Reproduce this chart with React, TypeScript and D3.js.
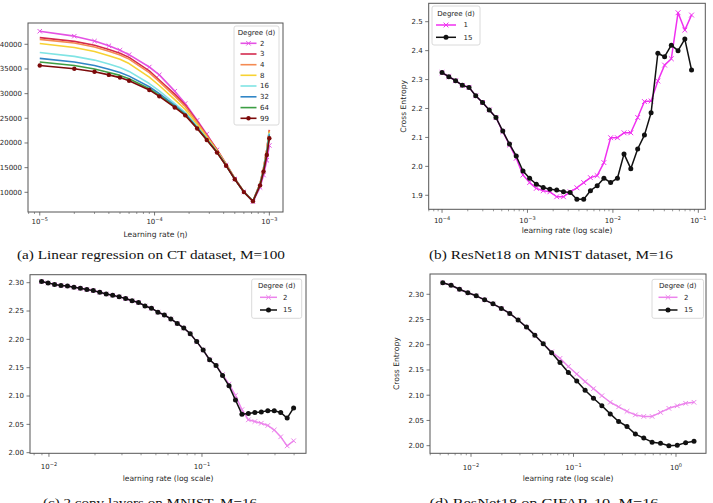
import * as d3 from "d3";

// ---- (a) linear regression on CT, M=100
const lrA = [1e-5, 2e-5, 3e-5, 4e-5, 5e-5, 6e-5, 9e-5, 1.1e-4, 1.5e-4, 1.85e-4, 2.35e-4, 2.85e-4, 3.5e-4, 4.2e-4, 5e-4, 6e-4, 7.2e-4, 8.3e-4, 8.9e-4, 9.5e-4, 1e-3];
const ctD2 = [42650, 41650, 40650, 39700, 38800, 37900, 35400, 33800, 30500, 28000, 24600, 21800, 18600, 15500, 12700, 10100, 8100, 11000, 13500, 16500, 19500];
const ctD3 = [41350, 40600, 39800, 38950, 38200, 37350, 34600, 32750, 29900, 27700, 24400, 21600, 18700, 15750, 12850, 10150, 8250, 11800, 14900, 18650, 22650];
const ctD4 = [41000, 40250, 39450, 38600, 37850, 37000, 34250, 32450, 29500, 27400, 24150, 21450, 18600, 15700, 12800, 10130, 8250, 11800, 14900, 18650, 22550];
const ctD8 = [40150, 39350, 38550, 37700, 36950, 36100, 33350, 31650, 28800, 26800, 23750, 21150, 18400, 15600, 12770, 10110, 8200, 11700, 14700, 18350, 22250];
const ctD16 = [38350, 37550, 36800, 36000, 35300, 34500, 32050, 30550, 28000, 26200, 23350, 20880, 18230, 15500, 12710, 10080, 8200, 11600, 14550, 18150, 22050];
const ctD32 = [37150, 36400, 35700, 34950, 34300, 33550, 31400, 30000, 27600, 25900, 23150, 20750, 18150, 15460, 12690, 10070, 8200, 11550, 14450, 17950, 21750];
const ctD64 = [36400, 35700, 35000, 34300, 33700, 33000, 31000, 29650, 27350, 25720, 23050, 20680, 18110, 15440, 12680, 10070, 8200, 11500, 14350, 17800, 21450];
const ctD99 = [35700, 35050, 34450, 33800, 33250, 32600, 30750, 29450, 27200, 25600, 22950, 20600, 18050, 15400, 12650, 10050, 8200, 11400, 14200, 17550, 20950];

// ---- (b) ResNet18 on MNIST, M=16
const lrB = [1.0e-4, 1.2e-4, 1.44e-4, 1.73e-4, 2.07e-4, 2.48e-4, 2.98e-4, 3.57e-4, 4.28e-4, 5.14e-4, 6.16e-4, 7.39e-4, 8.86e-4, 1.06e-3, 1.27e-3, 1.53e-3, 1.83e-3, 2.2e-3, 2.64e-3, 3.16e-3, 3.79e-3, 4.55e-3, 5.46e-3, 6.55e-3, 7.85e-3, 9.41e-3, 1.13e-2, 1.35e-2, 1.62e-2, 1.95e-2, 2.34e-2, 2.8e-2, 3.36e-2, 4.03e-2, 4.83e-2, 5.79e-2, 6.95e-2, 8.33e-2];
const resMnistD1 = [2.324, 2.31, 2.296, 2.28, 2.273, 2.244, 2.221, 2.195, 2.169, 2.12, 2.074, 2.028, 1.97, 1.944, 1.924, 1.916, 1.912, 1.895, 1.895, 1.912, 1.926, 1.944, 1.961, 1.968, 2.013, 2.099, 2.099, 2.116, 2.116, 2.169, 2.224, 2.226, 2.295, 2.35, 2.372, 2.531, 2.471, 2.523];
const resMnistD15 = [2.324, 2.31, 2.296, 2.28, 2.273, 2.244, 2.221, 2.195, 2.169, 2.122, 2.077, 2.036, 1.984, 1.959, 1.938, 1.927, 1.921, 1.918, 1.912, 1.91, 1.886, 1.886, 1.916, 1.933, 1.959, 1.944, 1.959, 2.043, 1.992, 2.06, 2.108, 2.185, 2.391, 2.379, 2.419, 2.4, 2.44, 2.333];

// ---- (c) 2 conv layers on MNIST, M=16
const lrC = [0.00895, 0.00987, 0.01088, 0.01199, 0.01321, 0.01456, 0.01605, 0.01769, 0.01949, 0.02148, 0.02367, 0.02609, 0.02875, 0.0317, 0.03493, 0.0385, 0.04243, 0.04676, 0.05153, 0.05679, 0.06259, 0.06898, 0.07602, 0.08378, 0.09236, 0.1018, 0.1122, 0.1236, 0.1363, 0.1502, 0.1655, 0.1824, 0.201, 0.2216, 0.2442, 0.2692, 0.2967, 0.3269, 0.3603, 0.3971];
const convD2 = [2.302, 2.2995, 2.297, 2.295, 2.294, 2.292, 2.29, 2.288, 2.286, 2.283, 2.28, 2.278, 2.275, 2.272, 2.268, 2.265, 2.259, 2.255, 2.248, 2.243, 2.236, 2.228, 2.22, 2.21, 2.196, 2.181, 2.164, 2.154, 2.138, 2.121, 2.101, 2.076, 2.058, 2.055, 2.052, 2.048, 2.04, 2.028, 2.012, 2.021];
const convD15 = [2.302, 2.2995, 2.297, 2.295, 2.294, 2.292, 2.29, 2.288, 2.286, 2.283, 2.28, 2.278, 2.275, 2.272, 2.268, 2.265, 2.259, 2.255, 2.248, 2.243, 2.236, 2.228, 2.22, 2.21, 2.196, 2.181, 2.164, 2.154, 2.136, 2.118, 2.093, 2.068, 2.069, 2.071, 2.072, 2.074, 2.074, 2.071, 2.061, 2.079];

// ---- (d) ResNet18 on CIFAR-10, M=16
const lrD = [0.0053, 0.00639, 0.00772, 0.00931, 0.01124, 0.01357, 0.01638, 0.01977, 0.02386, 0.02881, 0.03477, 0.04196, 0.05065, 0.06114, 0.0738, 0.08909, 0.1075, 0.1298, 0.1567, 0.1891, 0.2283, 0.2756, 0.3326, 0.4015, 0.4846, 0.5848, 0.706, 0.852, 1.0285, 1.2415, 1.4984];
const cifarD2 = [2.323, 2.318, 2.31, 2.303, 2.297, 2.289, 2.281, 2.272, 2.262, 2.249, 2.235, 2.219, 2.202, 2.186, 2.173, 2.157, 2.142, 2.127, 2.113, 2.099, 2.086, 2.077, 2.068, 2.061, 2.058, 2.058, 2.066, 2.074, 2.079, 2.084, 2.086];
const cifarD15 = [2.323, 2.318, 2.31, 2.303, 2.297, 2.289, 2.281, 2.272, 2.262, 2.249, 2.235, 2.219, 2.202, 2.184, 2.165, 2.145, 2.128, 2.11, 2.094, 2.079, 2.063, 2.048, 2.038, 2.023, 2.015, 2.007, 2.005, 2.0, 2.001, 2.006, 2.009];

const ticksCT = [10000, 15000, 20000, 25000, 30000, 35000, 40000];
const ticksB = [1.9, 2.0, 2.1, 2.2, 2.3, 2.4, 2.5];
const ticksCD = [2.0, 2.05, 2.1, 2.15, 2.2, 2.25, 2.3];

const captions = [
  "(a) Linear regression on CT dataset, M=100",
  "(b) ResNet18 on MNIST dataset, M=16",
  "(c) 2 conv layers on MNIST, M=16",
  "(d) ResNet18 on CIFAR-10, M=16",
];

const SANS = "DejaVu Sans, sans-serif";
const INK = "#262626";

type Series = { label: string; x: number[]; y: number[]; color: string; marker?: "x" | "o"; size?: number; width?: number };
type Box = { left: number; right: number; top: number; bottom: number };
type Legend = { x: number; y: number; w: number; h: number; titleY: number; rows: number[]; l0: number; l1: number; tx: number };

type PanelProps = {
  f: Box;
  xDomain: [number, number];
  yDomain: [number, number];
  yTicks: number[];
  yFmt: (v: number) => string;
  series: Series[];
  legend: Legend;
  tickOff: number;
  xLabel: string;
  xLabelY: number;
  yLabel?: string;
  yLabelX?: number;
};

const Marker = ({ s, cx, cy }: { s: Series; cx: number; cy: number }) => {
  const r = s.size ?? 2.4;
  if (s.marker === "o") return <circle cx={cx} cy={cy} r={r} fill={s.color} />;
  if (s.marker === "x")
    return (
      <path
        d={`M${cx - r},${cy - r}L${cx + r},${cy + r}M${cx - r},${cy + r}L${cx + r},${cy - r}`}
        stroke={s.color}
        strokeWidth={1}
      />
    );
  return null;
};

const Panel = (p: PanelProps) => {
  const f = p.f;
  const x = d3.scaleLog().domain(p.xDomain).range([f.left, f.right]);
  const y = d3.scaleLinear().domain(p.yDomain).range([f.bottom, f.top]);
  const lo = Math.floor(Math.log10(p.xDomain[0]));
  const hi = Math.ceil(Math.log10(p.xDomain[1]));
  const major: number[] = [];
  const minor: number[] = [];
  for (let e = lo; e <= hi; e++) {
    const v = Math.pow(10, e);
    if (v >= p.xDomain[0] && v <= p.xDomain[1]) major.push(e);
    for (let k = 2; k <= 9; k++) {
      const m = k * v;
      if (m >= p.xDomain[0] && m <= p.xDomain[1]) minor.push(m);
    }
  }
  const line = d3.line<number>();
  const lg = p.legend;
  return (
    <g fontFamily={SANS} fill={INK}>
      {p.series.map((s) => {
        const pts = s.x.map((v, i) => [x(v), y(s.y[i])] as [number, number]);
        return (
          <g key={s.label}>
            <path d={d3.line()(pts) ?? ""} fill="none" stroke={s.color} strokeWidth={s.width ?? 1.5} strokeLinejoin="round" />
            {s.marker && pts.map((q, i) => <Marker key={i} s={s} cx={q[0]} cy={q[1]} />)}
          </g>
        );
      })}
      <rect x={f.left} y={f.top} width={f.right - f.left} height={f.bottom - f.top} fill="none" stroke="#555" strokeWidth={1} />
      {minor.map((m) => (
        <line key={m} x1={x(m)} x2={x(m)} y1={f.bottom} y2={f.bottom + 2} stroke="#555" strokeWidth={0.6} />
      ))}
      {major.map((e) => (
        <g key={e}>
          <line x1={x(Math.pow(10, e))} x2={x(Math.pow(10, e))} y1={f.bottom} y2={f.bottom + 3.5} stroke="#555" strokeWidth={0.8} />
          <text x={x(Math.pow(10, e))} y={f.bottom + p.tickOff} fontSize={7} textAnchor="middle">
            10
            <tspan fontSize={5} dy={-3.2}>
              {e < 0 ? "\u2212" + -e : String(e)}
            </tspan>
          </text>
        </g>
      ))}
      {p.yTicks.map((t) => (
        <g key={t}>
          <line x1={f.left - 3.5} x2={f.left} y1={y(t)} y2={y(t)} stroke="#555" strokeWidth={0.8} />
          <text x={f.left - 6} y={y(t)} dy="0.35em" fontSize={7} textAnchor="end">
            {p.yFmt(t)}
          </text>
        </g>
      ))}
      <text x={(f.left + f.right) / 2} y={p.xLabelY} fontSize={7.6} textAnchor="middle">
        {p.xLabel}
      </text>
      {p.yLabel && (
        <text transform={`translate(${p.yLabelX},${(f.top + f.bottom) / 2}) rotate(-90)`} fontSize={7.6} textAnchor="middle">
          {p.yLabel}
        </text>
      )}
      <rect x={lg.x} y={lg.y} width={lg.w} height={lg.h} rx={2} fill="white" fillOpacity={0.85} stroke="#d0d0d0" strokeWidth={0.8} />
      <text x={lg.x + lg.w / 2} y={lg.titleY} dy="0.35em" fontSize={7} textAnchor="middle">
        Degree (d)
      </text>
      {p.series.map((s, i) => (
        <g key={s.label}>
          <line x1={lg.l0} x2={lg.l1} y1={lg.rows[i]} y2={lg.rows[i]} stroke={s.color} strokeWidth={s.width ?? 1.5} />
          {s.marker && <Marker s={s} cx={(lg.l0 + lg.l1) / 2} cy={lg.rows[i]} />}
          <text x={lg.tx} y={lg.rows[i]} dy="0.35em" fontSize={7}>
            {s.label}
          </text>
        </g>
      ))}
    </g>
  );
};

const fmtInt = (v: number) => String(v);
const fmt1 = (v: number) => v.toFixed(1);
const fmt2 = (v: number) => v.toFixed(2);

export default function App() {
  const seriesA: Series[] = [
    { label: "2", x: lrA, y: ctD2, color: "#e452e4", marker: "x", size: 2.2, width: 1.6 },
    { label: "3", x: lrA, y: ctD3, color: "#d42a4e", width: 1.6 },
    { label: "4", x: lrA, y: ctD4, color: "#f48a52", width: 1.6 },
    { label: "8", x: lrA, y: ctD8, color: "#f7d233", width: 1.6 },
    { label: "16", x: lrA, y: ctD16, color: "#80e4e4", width: 1.6 },
    { label: "32", x: lrA, y: ctD32, color: "#3186c6", width: 1.6 },
    { label: "64", x: lrA, y: ctD64, color: "#3c9e44", width: 1.6 },
    { label: "99", x: lrA, y: ctD99, color: "#7c0a0a", marker: "o", size: 2.2, width: 1.6 },
  ];
  const seriesB: Series[] = [
    { label: "1", x: lrB, y: resMnistD1, color: "#f030f0", marker: "x", size: 2.4 },
    { label: "15", x: lrB, y: resMnistD15, color: "#111", marker: "o", size: 2.5 },
  ];
  const seriesC: Series[] = [
    { label: "2", x: lrC, y: convD2, color: "#ec84ec", marker: "x", size: 2.3 },
    { label: "15", x: lrC, y: convD15, color: "#111", marker: "o", size: 2.5 },
  ];
  const seriesD: Series[] = [
    { label: "2", x: lrD, y: cifarD2, color: "#ec84ec", marker: "x", size: 2.3 },
    { label: "15", x: lrD, y: cifarD15, color: "#111", marker: "o", size: 2.5 },
  ];
  const capY = [259, 259, 507, 507];
  const capX = [151, 551, 150, 544];
  const capW = [268, 244, 214, 229];
  return (
    <svg width={713} height={503} style={{ position: "absolute", left: 0, top: 0, background: "white" }}>
      <Panel
        f={{ left: 28, right: 283, top: 23, bottom: 212 }}
        xDomain={[7.9e-6, 1.315e-3]}
        yDomain={[6012, 44317]}
        yTicks={ticksCT}
        yFmt={fmtInt}
        series={seriesA}
        legend={{ x: 234, y: 26, w: 45, h: 99, titleY: 32.7, rows: [43.3, 54, 64.7, 75.3, 86, 96.8, 107.6, 118.3], l0: 240.5, l1: 256.5, tx: 260 }}
        tickOff={12}
        xLabel="Learning rate (η)"
        xLabelY={236.5}
      />
      <Panel
        f={{ left: 428.7, right: 705.3, top: 3.3, bottom: 209.3 }}
        xDomain={[6.98e-5, 0.1207]}
        yDomain={[1.8516, 2.5636]}
        yTicks={ticksB}
        yFmt={fmt1}
        series={seriesB}
        legend={{ x: 432, y: 6, w: 48, h: 39, titleY: 14, rows: [25, 37.3], l0: 436, l1: 456, tx: 463.5 }}
        tickOff={13.7}
        xLabel="learning rate (log scale)"
        xLabelY={233.3}
        yLabel="Cross Entropy"
        yLabelX={406.3}
      />
      <Panel
        f={{ left: 30, right: 306, top: 274.7, bottom: 453.3 }}
        xDomain={[0.00752, 0.4784]}
        yDomain={[1.9989, 2.3141]}
        yTicks={ticksCD}
        yFmt={fmt2}
        series={seriesC}
        legend={{ x: 251.7, y: 279, w: 50, h: 39.3, titleY: 285.5, rows: [297.3, 310], l0: 260, l1: 277, tx: 283 }}
        tickOff={15.7}
        xLabel="learning rate (log scale)"
        xLabelY={481.3}
      />
      <Panel
        f={{ left: 430, right: 706, top: 274, bottom: 453.3 }}
        xDomain={[0.00398, 1.962]}
        yDomain={[1.9849, 2.3402]}
        yTicks={ticksCD}
        yFmt={fmt2}
        series={seriesD}
        legend={{ x: 652, y: 279.3, w: 51.5, h: 39, titleY: 285.5, rows: [297.3, 310], l0: 658.5, l1: 677.5, tx: 684 }}
        tickOff={16.7}
        xLabel="learning rate (log scale)"
        xLabelY={481.3}
        yLabel="Cross Entropy"
        yLabelX={398.5}
      />
      {captions.map((c, i) => (
        <text
          key={c}
          x={capX[i] - capW[i] / 2}
          y={capY[i]}
          fontFamily="Liberation Serif, serif"
          fontSize={13}
          fill="#111"
          textLength={capW[i]}
          lengthAdjust="spacingAndGlyphs"
        >
          {c}
        </text>
      ))}
    </svg>
  );
}
